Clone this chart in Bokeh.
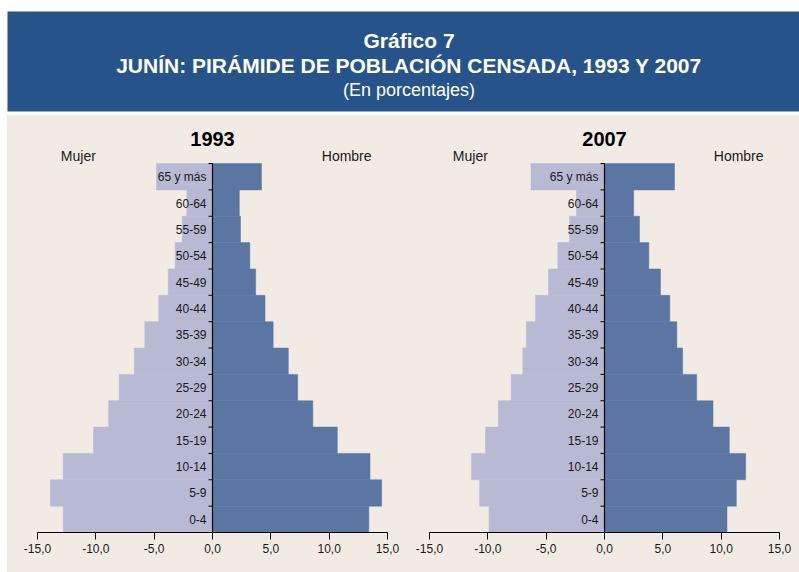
import math
from bokeh.plotting import figure
from bokeh.layouts import column, row
from bokeh.models import ColumnDataSource, Range1d, FixedTicker, Label, Spacer
from bokeh.core.properties import value
from bokeh.embed import file_html
from bokeh.resources import INLINE

# ---------------- data ----------------
age_groups = ["0-4", "5-9", "10-14", "15-19", "20-24", "25-29", "30-34",
              "35-39", "40-44", "45-49", "50-54", "55-59", "60-64", "65 y más"]
mujer_1993 = [12.8, 13.9, 12.8, 10.2, 8.9, 8.0, 6.7, 5.8, 4.6, 3.8, 3.2, 2.6, 2.2, 4.8]
hombre_1993 = [13.4, 14.5, 13.5, 10.7, 8.6, 7.3, 6.5, 5.2, 4.5, 3.7, 3.2, 2.4, 2.3, 4.2]
mujer_2007 = [9.9, 10.7, 11.4, 10.2, 9.1, 8.0, 7.0, 6.7, 5.9, 4.8, 4.0, 3.0, 2.4, 6.3]
hombre_2007 = [10.5, 11.3, 12.1, 10.7, 9.3, 7.9, 6.7, 6.2, 5.6, 4.8, 3.8, 3.0, 2.5, 6.0]
x_ticks = [-15, -10, -5, 0, 5, 10, 15]
x_tick_labels = ["-15,0", "-10,0", "-5,0", "0,0", "5,0", "10,0", "15,0"]
title_lines = ["Gráfico 7", "JUNÍN: PIRÁMIDE DE POBLACIÓN CENSADA, 1993 Y 2007", "(En porcentajes)"]

# ---------------- style ----------------
BLUE = "#26548a"
BEIGE = "#f2ebe4"
MUJER = "#b8b9d2"
HOMBRE = "#5b76a3"
SANS = "'Liberation Sans', Arial, sans-serif"
TXT = "#1a1a1a"
TOP_PAD = 1.52   # room above the bars (in row units) for the year and side labels

# ---------------- header ----------------
hdr = figure(width=799, height=115, x_range=Range1d(0, 1), y_range=Range1d(0, 1),
             output_backend="svg", toolbar_location=None,
             min_border_top=11, min_border_bottom=4, min_border_left=7, min_border_right=0,
             background_fill_color=BLUE, border_fill_color="white",
             outline_line_color=None, x_axis_location=None, y_axis_location=None)
hdr.grid.visible = False
for txt, yy, bold, size in zip(title_lines, [0.71, 0.46, 0.22], [True, True, False],
                               ["21px", "21px", "18px"]):
    hdr.add_layout(Label(x=0.507, y=yy, text=txt, text_align="center", text_baseline="middle",
                         text_color="white", text_font=SANS, text_font_size=size,
                         text_font_style="bold" if bold else "normal"))


def pyramid(year, mujer, hombre, width, bl, br):
    n = len(age_groups)
    src = ColumnDataSource(dict(label=age_groups,
                                mid=[i + 0.5 for i in range(n)],
                                m_left=[-v for v in mujer],
                                h_right=list(hombre)))
    bounds = ColumnDataSource(dict(yb=list(range(n + 1))))
    p = figure(width=width, height=457, x_range=Range1d(-15, 15),
               y_range=Range1d(0, n + TOP_PAD),
               output_backend="svg", toolbar_location=None,
               min_border_left=bl, min_border_right=br, min_border_top=8, min_border_bottom=40,
               background_fill_color=BEIGE, background_fill_alpha=0,
               border_fill_color=BEIGE, outline_line_color=None,
               styles={"background-color": BEIGE})
    p.grid.visible = False
    p.hbar(y="mid", left="m_left", right=0, height=1, fill_color=MUJER, line_color=MUJER,
           line_width=0.5, source=src)
    p.hbar(y="mid", left=0, right="h_right", height=1, fill_color=HOMBRE, line_color=HOMBRE,
           line_width=0.5, source=src)
    p.text(x=0, y="mid", text="label", x_offset=-6, text_align="right", text_baseline="middle",
           text_font=value(SANS), text_font_size="12px", text_color=TXT, source=src)
    # small ticks on the central axis, at the limits between age groups
    p.ray(x=0, y="yb", length=4, length_units="screen", angle=math.pi,
          line_color="black", line_width=1, source=bounds)

    xa = p.xaxis[0]
    xa.ticker = FixedTicker(ticks=x_ticks)
    xa.major_label_overrides = dict(zip(x_ticks, x_tick_labels))
    xa.major_tick_out = 7
    xa.major_tick_in = 0
    xa.minor_tick_out = 0
    xa.minor_tick_in = 0
    xa.axis_line_color = "black"
    xa.major_tick_line_color = "black"
    xa.major_label_text_font = SANS
    xa.major_label_text_font_size = "12px"
    xa.major_label_text_color = TXT
    xa.major_label_standoff = 4

    ya = p.yaxis[0]
    ya.fixed_location = 0
    ya.bounds = (0, n)
    ya.ticker = FixedTicker(ticks=[])
    ya.major_tick_out = 0
    ya.major_tick_in = 0
    ya.minor_tick_out = 0
    ya.minor_tick_in = 0
    ya.axis_line_color = "black"
    ya.axis_line_width = 1.2

    p.add_layout(Label(x=0, y=n + 0.95, text=year, text_align="center",
                       text_baseline="middle", text_font=SANS, text_font_size="20px",
                       text_font_style="bold", text_color="black"))
    p.add_layout(Label(x=-11.5, y=n + 0.3, text="Mujer", text_align="center",
                       text_baseline="middle", text_font=SANS, text_font_size="14px",
                       text_color=TXT))
    p.add_layout(Label(x=11.5, y=n + 0.3, text="Hombre", text_align="center",
                       text_baseline="middle", text_font=SANS, text_font_size="14px",
                       text_color=TXT))
    return p


p1 = pyramid("1993", mujer_1993, hombre_1993, 397, 30, 17)
p2 = pyramid("2007", mujer_2007, hombre_2007, 395, 25, 20)

layout = column(hdr,
                row(Spacer(width=7, height=457, styles={"background-color": "white"}), p1, p2,
                    spacing=0, styles={"background-color": BEIGE}),
                spacing=0)
open("out.html", "w").write(file_html(layout, INLINE))
